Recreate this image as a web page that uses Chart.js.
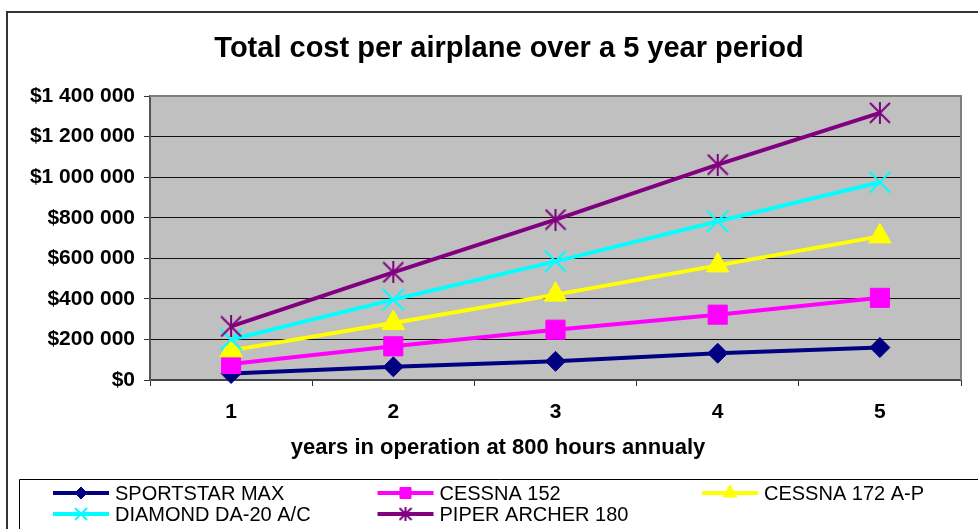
<!DOCTYPE html>
<html><head><meta charset="utf-8">
<script src="https://cdn.jsdelivr.net/npm/chart.js@4"></script>
<style>html,body{margin:0;padding:0;background:#fff;}#wrap{width:978px;height:529px;position:relative;}</style>
</head><body><div id="wrap"><canvas id="c" width="978" height="529"></canvas></div>
<script>
// ---- data ----
const categories = ['1', '2', '3', '4', '5'];
const seriesNames = ['SPORTSTAR MAX', 'CESSNA 152', 'CESSNA 172 A-P', 'DIAMOND DA-20 A/C', 'PIPER ARCHER 180'];
const sportstarMax = [32000, 65000, 92000, 132000, 160000];
const cessna152 = [79000, 166000, 248000, 322000, 405000];
const cessna172 = [146000, 281000, 421000, 565000, 708000];
const diamondDA20 = [199000, 396000, 585000, 782000, 975000];
const piperArcher = [264000, 531000, 791000, 1062000, 1317000];
const yTickValues = [0, 200000, 400000, 600000, 800000, 1000000, 1200000, 1400000];
const chartTitle = 'Total cost per airplane over a 5 year period';
const xAxisTitle = 'years in operation at 800 hours annualy';

// ---- styles ----
const FONT = '"Liberation Sans", Arial, Helvetica, sans-serif';
const colors = ['#000080', '#FF00FF', '#FFFF00', '#00FFFF', '#800080'];

function makeStar(size, lw, color) {
  const c = document.createElement('canvas');
  c.width = size; c.height = size;
  const g = c.getContext('2d');
  g.strokeStyle = color; g.lineWidth = lw; g.lineCap = 'butt';
  const h = size / 2, r = h - 1;
  g.beginPath();
  g.moveTo(h - r, h - r); g.lineTo(h + r, h + r);
  g.moveTo(h + r, h - r); g.lineTo(h - r, h + r);
  g.moveTo(h, 0); g.lineTo(h, size);
  g.stroke();
  return c;
}
const starBig = makeStar(22, 2, colors[4]);
const starSmall = makeStar(14, 2, colors[4]);

const seriesData = [sportstarMax, cessna152, cessna172, diamondDA20, piperArcher];
const styles = [
  { pointStyle: 'rectRot', radius: 10, legendRadius: 6, bw: 1 },
  { pointStyle: 'rect', radius: 13.5, legendRadius: 7.8, bw: 1 },
  { pointStyle: 'triangle', radius: 13, legendRadius: 8, bw: 1 },
  { pointStyle: 'crossRot', radius: 15, legendRadius: 8.5, bw: 2 },
  { pointStyle: starBig, legendStyle: starSmall, radius: 11, legendRadius: 7, bw: 2 }
];

const datasets = seriesData.map((d, i) => ({
  label: seriesNames[i],
  data: d,
  borderColor: colors[i],
  backgroundColor: colors[i],
  pointBackgroundColor: colors[i],
  pointBorderColor: colors[i],
  borderWidth: 4,
  pointStyle: styles[i].pointStyle,
  pointRadius: styles[i].radius,
  pointHoverRadius: styles[i].radius,
  pointBorderWidth: styles[i].bw,
  tension: 0,
  clip: false,
  order: seriesData.length - i
}));

const PLOT = { left: 150, right: 961, top: 96, bottom: 380 };

const decorPlugin = {
  id: 'decor',
  beforeDraw(chart) {
    const ctx = chart.ctx, a = chart.chartArea;
    ctx.save();
    ctx.fillStyle = '#fff';
    ctx.fillRect(0, 0, chart.width, chart.height);
    // outer frame
    ctx.strokeStyle = '#333';
    ctx.lineWidth = 2;
    ctx.beginPath();
    ctx.moveTo(7, chart.height + 2); ctx.lineTo(7, 12); ctx.lineTo(chart.width + 2, 12);
    ctx.stroke();
    // plot background
    ctx.fillStyle = '#C0C0C0';
    ctx.fillRect(a.left, a.top, a.right - a.left, a.bottom - a.top);
    ctx.restore();
  },
  beforeDatasetsDraw(chart) {
    const ctx = chart.ctx, a = chart.chartArea;
    ctx.save();
    ctx.strokeStyle = '#808080';
    ctx.lineWidth = 2;
    ctx.beginPath();
    ctx.moveTo(a.left, a.top); ctx.lineTo(a.right, a.top); ctx.lineTo(a.right, a.bottom);
    ctx.stroke();
    ctx.restore();
  },
  afterDraw(chart) {
    const ctx = chart.ctx;
    ctx.save();
    // title
    ctx.fillStyle = '#000';
    ctx.font = 'bold 29px ' + FONT;
    ctx.textAlign = 'center';
    ctx.textBaseline = 'alphabetic';
    ctx.fillText(chartTitle, 509, 57);
    // x axis title
    ctx.font = 'bold 22px ' + FONT;
    ctx.textBaseline = 'middle';
    ctx.fillText(xAxisTitle, 498, 448);
    // legend box
    ctx.strokeStyle = '#000';
    ctx.lineWidth = 1;
    ctx.beginPath();
    ctx.moveTo(19.5, chart.height + 2); ctx.lineTo(19.5, 479.5); ctx.lineTo(chart.width + 2, 479.5);
    ctx.stroke();
    // legend entries
    ctx.font = '20px ' + FONT;
    ctx.textAlign = 'left';
    ctx.textBaseline = 'middle';
    seriesNames.forEach((name, i) => {
      const col = i % 3, row = Math.floor(i / 3);
      const x0 = 53 + col * 324.5, y = 493 + row * 21;
      ctx.strokeStyle = colors[i];
      ctx.lineWidth = 4;
      ctx.beginPath(); ctx.moveTo(x0, y); ctx.lineTo(x0 + 56, y); ctx.stroke();
      ctx.fillStyle = colors[i];
      ctx.strokeStyle = colors[i];
      ctx.lineWidth = styles[i].bw;
      Chart.helpers.drawPoint(ctx, {
        pointStyle: styles[i].legendStyle || styles[i].pointStyle,
        radius: styles[i].legendRadius,
        rotation: 0,
        borderWidth: styles[i].bw
      }, x0 + 28, y);
      ctx.fillStyle = '#000';
      ctx.fillText(name, x0 + 62, y + 1);
    });
    ctx.restore();
  }
};

const fmt = v => '$' + String(v).replace(/\B(?=(\d{3})+(?!\d))/g, ' ');

new Chart(document.getElementById('c'), {
  type: 'line',
  data: { labels: categories, datasets },
  options: {
    responsive: false,
    animation: false,
    devicePixelRatio: 1,
    layout: { padding: { left: 0, right: 978 - PLOT.right, top: PLOT.top, bottom: 529 - PLOT.bottom - 40 } },
    plugins: { legend: { display: false }, title: { display: false }, tooltip: { enabled: false } },
    events: [],
    scales: {
      x: {
        type: 'category',
        offset: true,
        afterFit(s) { s.height = 40; },
        grid: { display: true, offset: true, drawOnChartArea: false, drawTicks: true, tickLength: 6, tickColor: '#333', lineWidth: 1 },
        border: { display: true, color: '#444', width: 2 },
        ticks: { color: '#000', font: { family: FONT, size: 21, weight: 'bold' }, padding: 14, maxRotation: 0 }
      },
      y: {
        min: 0, max: 1400000,
        afterFit(s) { s.width = PLOT.left; },
        afterBuildTicks(s) { s.ticks = yTickValues.map(v => ({ value: v })); },
        grid: {
          color: ctx => (ctx.tick && ctx.tick.value === 1400000) ? '#808080' : '#111',
          lineWidth: 1, tickLength: 6, tickColor: '#333', drawTicks: true
        },
        border: { display: true, color: '#555', width: 2 },
        ticks: { color: '#000', font: { family: FONT, size: 21, weight: 'bold' }, padding: 9, callback: v => fmt(v) }
      }
    }
  },
  plugins: [decorPlugin]
});
</script>
</body></html>
